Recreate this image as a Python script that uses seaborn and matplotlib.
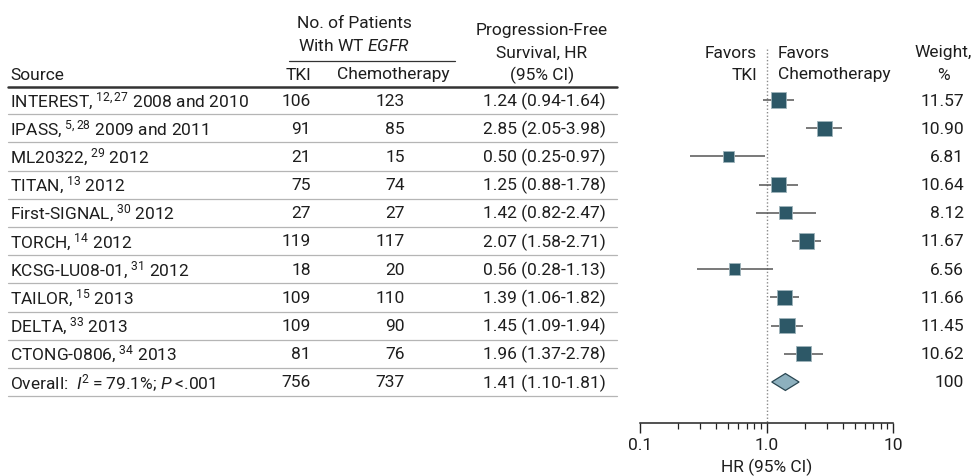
import matplotlib
matplotlib.use("Agg")
import matplotlib.pyplot as plt
import numpy as np
import pandas as pd
import seaborn as sns

# study-level data
sources = ["INTEREST", "IPASS", "ML20322", "TITAN", "First-SIGNAL", "TORCH",
           "KCSG-LU08-01", "TAILOR", "DELTA", "CTONG-0806"]
refs = ["12,27", "5,28", "29", "13", "30", "14", "31", "15", "33", "34"]
years = ["2008 and 2010", "2009 and 2011", "2012", "2012", "2012", "2012",
         "2012", "2013", "2013", "2013"]
tki_n = [106, 91, 21, 75, 27, 119, 18, 109, 109, 81]
chemo_n = [123, 85, 15, 74, 27, 117, 20, 110, 90, 76]
hr = [1.24, 2.85, 0.50, 1.25, 1.42, 2.07, 0.56, 1.39, 1.45, 1.96]
hr_lo = [0.94, 2.05, 0.25, 0.88, 0.82, 1.58, 0.28, 1.06, 1.09, 1.37]
hr_hi = [1.64, 3.98, 0.97, 1.78, 2.47, 2.71, 1.13, 1.82, 1.94, 2.78]
weights = [11.57, 10.90, 6.81, 10.64, 8.12, 11.67, 6.56, 11.66, 11.45, 10.62]

overall_tki = 756
overall_chemo = 737
overall_hr, overall_lo, overall_hi = 1.41, 1.10, 1.81
overall_weight = "100"
overall_label = "Overall:  $\\mathit{I}^{\\mathregular{2}}$\u2009=\u200979.1%; $\\mathit{P}$\u2009<.001"

x_ticks = [0.1, 1.0, 10]
x_ticklabels = ["0.1", "1.0", "10"]

sns.set_theme(style="white")
plt.rcParams["font.family"] = ["Roboto", "DejaVu Sans"]
plt.rcParams["mathtext.fontset"] = "custom"
plt.rcParams["mathtext.rm"] = "Roboto"
plt.rcParams["mathtext.it"] = "Roboto:italic"

TXT = "#1e1e1e"
FS = 12.5
SQ = "#2d5867"
DIA = "#8db0be"

W, H = 972, 477
fig = plt.figure(figsize=(W / 100, H / 100), dpi=100)

ROW0, ROWH = 101, 28.2


def py(px):
    # pixel row -> row units
    return (px - ROW0) / ROWH


n = len(sources)
rows = np.arange(n)

# table axes: x in pixels, y in row units
ax_t = fig.add_axes([0, 0, 1, 1])
ax_t.set_xlim(0, W)
ax_t.set_ylim(py(H), py(0))
ax_t.axis("off")

df = pd.DataFrame({
    "row": rows, "hr": hr, "lo": hr_lo, "hi": hr_hi, "weight": weights,
})

labels = [f"{s},\u2009$^{{\\mathregular{{{r}}}}}$ {y}" for s, r, y in zip(sources, refs, years)]
labels.append(overall_label)
tki_col = [str(v) for v in tki_n] + [str(overall_tki)]
chemo_col = [str(v) for v in chemo_n] + [str(overall_chemo)]
hr_col = [f"{h:.2f} ({l:.2f}-{u:.2f})" for h, l, u in zip(hr, hr_lo, hr_hi)]
hr_col.append(f"{overall_hr:.2f} ({overall_lo:.2f}-{overall_hi:.2f})")
w_col = [f"{w:.2f}" for w in weights] + [overall_weight]

for i in range(n + 1):
    ax_t.text(10, i, labels[i], ha="left", va="center", fontsize=FS, color=TXT)
    ax_t.text(311, i, tki_col[i], ha="right", va="center", fontsize=FS, color=TXT)
    ax_t.text(405, i, chemo_col[i], ha="right", va="center", fontsize=FS, color=TXT)
    ax_t.text(606, i, hr_col[i], ha="right", va="center", fontsize=FS, color=TXT)
    ax_t.text(964, i, w_col[i], ha="right", va="center", fontsize=FS, color=TXT)
    ax_t.plot([8, 617], [i + 0.5, i + 0.5], color="#b5b5b5", lw=0.9)

ax_t.plot([8, 617], [py(88), py(88)], color="#333333", lw=1.8)

# headers
hdr = dict(fontsize=FS, color=TXT, va="center")
ax_t.text(10, py(75), "Source", ha="left", **hdr)
ax_t.text(354, py(24), "No. of Patients", ha="center", **hdr)
ax_t.text(354, py(46), "With WT $\\mathit{EGFR}$", ha="center", **hdr)
ax_t.plot([289, 455], [py(62), py(62)], color="#333333", lw=0.9)
ax_t.text(298, py(75), "TKI", ha="center", **hdr)
ax_t.text(393, py(75), "Chemotherapy", ha="center", **hdr)
ax_t.text(542, py(31), "Progression-Free", ha="center", **hdr)
ax_t.text(542, py(53), "Survival, HR", ha="center", **hdr)
ax_t.text(542, py(75), "(95% CI)", ha="center", **hdr)
ax_t.text(757, py(53), "Favors", ha="right", **hdr)
ax_t.text(757, py(75), "TKI", ha="right", **hdr)
ax_t.text(778, py(53), "Favors", ha="left", **hdr)
ax_t.text(778, py(75), "Chemotherapy", ha="left", **hdr)
ax_t.text(943, py(53), "Weight,", ha="center", **hdr)
ax_t.text(943, py(75), "%", ha="center", **hdr)

# forest axes
ax_top, ax_bot = 45, 424
ax_f = fig.add_axes([640 / W, 1 - ax_bot / H, (893 - 640) / W, (ax_bot - ax_top) / H])
ax_f.patch.set_alpha(0)
ax_f.set_xscale("log")
ax_f.set_xlim(0.1, 10)
ax_f.set_ylim(py(ax_bot), py(ax_top))

ax_f.vlines(1.0, py(50), py(ax_bot), colors="#8a8a8a", linestyles=(0, (1, 1.5)), lw=1)
ax_f.hlines(df["row"], df["lo"], df["hi"], colors="#555555", lw=1.1, zorder=2)
sns.scatterplot(data=df, x="hr", y="row", size="weight", sizes=(68, 125),
                size_norm=(min(weights), max(weights)), marker="s", color=SQ,
                edgecolor="#9fb4bb", linewidth=0.6, legend=False, ax=ax_f, zorder=3)
d = 0.3
ax_f.fill([overall_lo, overall_hr, overall_hi, overall_hr],
          [n, n - d, n, n + d], facecolor=DIA, edgecolor="#2a4752", lw=0.9, zorder=3)

for s in ["left", "right", "top"]:
    ax_f.spines[s].set_visible(False)
ax_f.spines["bottom"].set_color("#222222")
ax_f.spines["bottom"].set_linewidth(1.1)
ax_f.set_yticks([])
ax_f.set_xticks(x_ticks)
ax_f.set_xticklabels(x_ticklabels)
ax_f.tick_params(axis="x", which="major", length=7, width=1, color="#222222",
                 labelsize=FS, labelcolor=TXT, pad=3, bottom=True)
ax_f.tick_params(axis="x", which="minor", length=4, width=0.9, color="#222222", bottom=True)
ax_f.set_xlabel("HR (95% CI)", fontsize=FS, color=TXT, labelpad=4)
ax_f.set_ylabel("")

fig.savefig("out.png", dpi=100)
